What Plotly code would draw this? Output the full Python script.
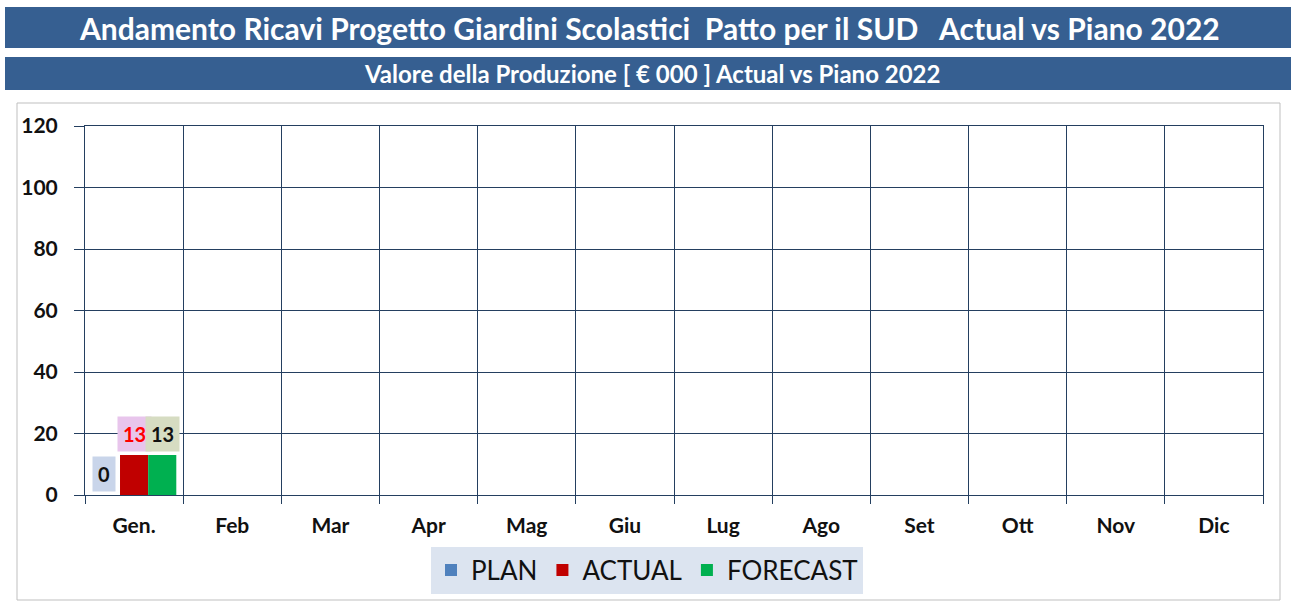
import plotly.graph_objects as go

mesi = ["Gen.", "Feb", "Mar", "Apr", "Mag", "Giu", "Lug", "Ago", "Set", "Ott", "Nov", "Dic"]
plan = [0, None, None, None, None, None, None, None, None, None, None, None]
actual = [13, None, None, None, None, None, None, None, None, None, None, None]
forecast = [13, None, None, None, None, None, None, None, None, None, None, None]
y_ticks = [0, 20, 40, 60, 80, 100, 120]

W, H = 1291, 608
L, R, T, B = 85, 28, 126, 113
FONT = "Lato"

def px(x):
    return (x - L) / (W - L - R)

def py(y):
    return (H - B - y) / (H - T - B)

fig = go.Figure()
serie = [("PLAN", plan, "#4F81BD", "#C9D5EA", "#111111", -30),
         ("ACTUAL", actual, "#C00000", "#E8C5EC", "#FF0000", 0),
         ("FORECAST", forecast, "#00B050", "#D6DCC2", "#111111", 28)]

for nome, vals, col, bg, tcol, shift in serie:
    fig.add_bar(x=mesi, y=vals, name=nome, marker_color=col, marker_line_width=0)
    for m, v in zip(mesi, vals):
        if v is None:
            continue
        fig.add_annotation(x=m, y=v, text="<b>%d</b>" % v, showarrow=False,
                           xref="x", yref="y", xshift=shift, xanchor="center",
                           yanchor="bottom", yshift=3, bgcolor=bg, borderpad=5,
                           font=dict(family=FONT, size=20, color=tcol))

# cornice del grafico
fig.add_shape(type="rect", xref="paper", yref="paper", x0=px(17), x1=px(1280), y0=py(600), y1=py(103),
              line=dict(color="#BFBFBF", width=1), fillcolor="white", layer="below")
# bande dei titoli
fig.add_shape(type="rect", xref="paper", yref="paper", x0=px(5), x1=px(1291), y0=py(48), y1=py(7),
              line_width=0, fillcolor="#365F91")
fig.add_shape(type="rect", xref="paper", yref="paper", x0=px(5), x1=px(1291), y0=py(90), y1=py(57),
              line_width=0, fillcolor="#365F91")
fig.add_annotation(xref="paper", yref="paper", x=px(649), y=py(28), showarrow=False,
                   xanchor="center", yanchor="middle",
                   text="<b>Andamento Ricavi Progetto Giardini Scolastici  Patto per il SUD   Actual vs Piano 2022</b>",
                   font=dict(family=FONT, size=30, color="white"))
fig.add_annotation(xref="paper", yref="paper", x=px(652), y=py(74), showarrow=False,
                   xanchor="center", yanchor="middle",
                   text="<b>Valore della Produzione [ € 000 ] Actual vs Piano 2022</b>",
                   font=dict(family=FONT, size=24, color="white"))

fig.update_layout(
    width=W, height=H,
    margin=dict(l=L, r=R, t=T, b=B, autoexpand=False),
    paper_bgcolor="white", plot_bgcolor="white",
    barmode="group", bargap=0.14, bargroupgap=0,
    font=dict(family=FONT, color="#111111"),
    showlegend=True,
    legend=dict(orientation="h", x=px(647), xanchor="center", y=py(570), yanchor="middle",
                bgcolor="#DCE4F0", font=dict(family=FONT, size=26, color="#111111"),
                itemsizing="constant", itemwidth=30, traceorder="normal"),
)
fig.update_xaxes(type="category", tickson="boundaries", showgrid=True, gridcolor="#243F60", gridwidth=1,
                 ticks="outside", ticklen=8, tickcolor="#243F60", automargin=False,
                 showline=True, linecolor="#243F60", mirror=True,
                 tickfont=dict(family=FONT, size=21, color="#111111", weight="bold"), ticklabelstandoff=12)
fig.update_yaxes(range=[0, 120], tickvals=y_ticks, showgrid=True, gridcolor="#243F60", gridwidth=1,
                 ticks="outside", ticklen=10, tickcolor="#243F60", zeroline=False, automargin=False,
                 showline=True, linecolor="#243F60", mirror=True,
                 tickfont=dict(family=FONT, size=21, color="#111111", weight="bold"), ticklabelstandoff=12)

fig.write_html("out.html", config={"displayModeBar": False},
               post_script="document.body.style.margin='0';")
